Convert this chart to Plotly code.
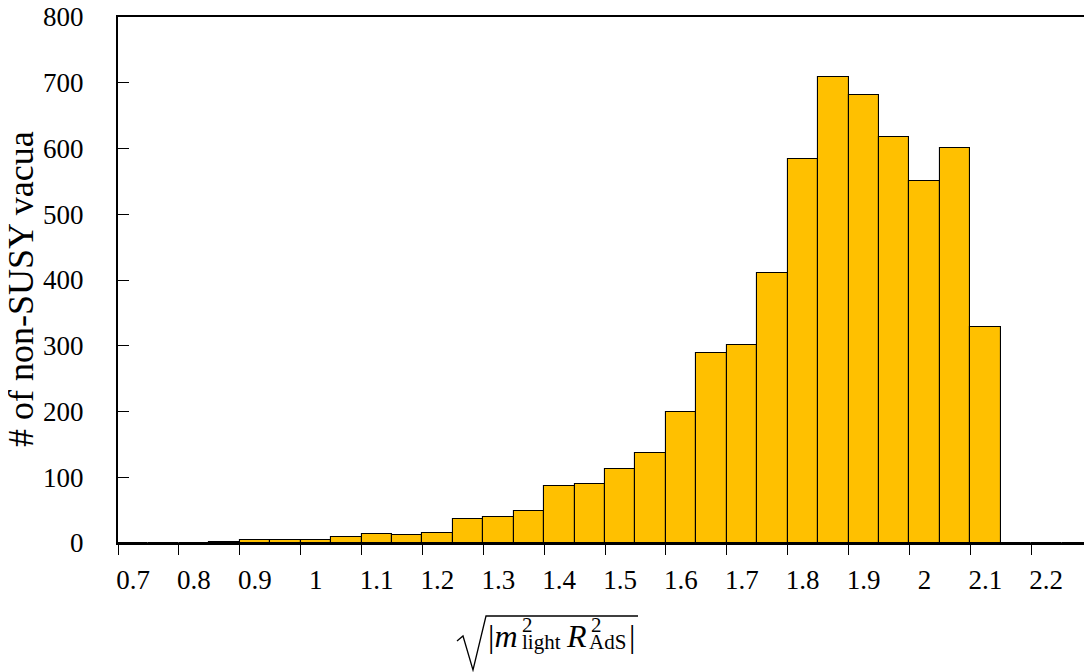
import plotly.graph_objects as go

# Histogram data: left bin edges and counts (bin width 0.05)
bin_width = 0.05
bin_left_edges = [0.70, 0.75, 0.80, 0.85, 0.90, 0.95, 1.00, 1.05, 1.10, 1.15,
                  1.20, 1.25, 1.30, 1.35, 1.40, 1.45, 1.50, 1.55, 1.60, 1.65,
                  1.70, 1.75, 1.80, 1.85, 1.90, 1.95, 2.00, 2.05, 2.10, 2.15,
                  2.20, 2.25]
counts = [0, 0, 0, 1, 4, 4, 4, 9, 14, 12,
          15, 36, 39, 48, 86, 90, 112, 137, 199, 289,
          301, 410, 584, 709, 681, 618, 550, 601, 329, 0,
          0, 0]

x_tick_vals = [0.7, 0.8, 0.9, 1.0, 1.1, 1.2, 1.3, 1.4, 1.5, 1.6, 1.7, 1.8, 1.9, 2.0, 2.1, 2.2]
x_tick_text = ["0.7", "0.8", "0.9", "1", "1.1", "1.2", "1.3", "1.4", "1.5", "1.6",
               "1.7", "1.8", "1.9", "2", "2.1", "2.2"]
y_tick_vals = [0, 100, 200, 300, 400, 500, 600, 700, 800]

centers = [e + bin_width / 2 for e in bin_left_edges]

FONT = "Liberation Serif"

fig = go.Figure()
fig.add_trace(go.Bar(
    x=centers, y=counts, width=bin_width,
    marker=dict(color="rgb(255,192,0)", line=dict(color="black", width=1.1)),
    showlegend=False,
))

# page has an 8px body margin; figure sized to fit the 1092x672 window
PAGE_OFF = 8
FIG_W, FIG_H = 1092 - PAGE_OFF, 672 - PAGE_OFF
# plot area in window pixels
L, R, T, B = 118, 1092, 17, 543
W_, H_ = R - L, B - T
def px(x):
    return (x - L) / W_
def py(y):
    return (B - y) / H_

annots = []
def add_text(text, x, ycenter, size):
    annots.append(dict(text=text, x=px(x), y=py(ycenter), xref="paper", yref="paper",
                       xanchor="left", yanchor="middle", showarrow=False,
                       font=dict(family=FONT, size=size, color="black")))

add_text("|<i>m</i>", 486, 636, 32)
add_text("2", 520, 625, 21)
add_text("light", 520, 642, 21)
add_text("<i>R</i>", 564, 636, 32)
add_text("2", 589, 625, 21)
add_text("AdS", 587, 642, 21)
add_text("|", 627, 636, 32)

# y-axis title as rotated annotation
annots.append(dict(text="# of non-SUSY vacua", x=px(21), y=py(289), xref="paper", yref="paper",
                   xanchor="center", yanchor="middle", textangle=-90, showarrow=False,
                   font=dict(family=FONT, size=36, color="black")))

radical = "M {},{} L {},{} L {},{} L {},{} L {},{}".format(
    px(457), py(641), px(463), py(636), px(473), py(670), px(486), py(616), px(638), py(616))

fig.update_layout(
    width=FIG_W, height=FIG_H,
    margin=dict(l=L - PAGE_OFF, r=FIG_W - (R - PAGE_OFF), t=T - PAGE_OFF, b=FIG_H - (B - PAGE_OFF)),
    paper_bgcolor="white", plot_bgcolor="white",
    bargap=0,
    font=dict(family=FONT, color="black"),
    annotations=annots,
    shapes=[dict(type="path", path=radical, xref="paper", yref="paper",
                 line=dict(color="black", width=1.3))],
    xaxis=dict(
        range=[0.7, 2.3], tickvals=x_tick_vals, ticktext=x_tick_text,
        ticks="outside", ticklen=10, tickwidth=1.3, tickcolor="black",
        showline=True, linecolor="black", linewidth=2, mirror=True,
        showgrid=False, zeroline=False, automargin=False,
        tickfont=dict(family=FONT, size=27, color="black"),
        ticklabelshift=15, ticklabelstandoff=2, ticklabeloverflow="allow",
    ),
    yaxis=dict(
        range=[0, 800], tickvals=y_tick_vals,
        ticks="inside", ticklen=11, tickwidth=1.3, tickcolor="black",
        showline=True, linecolor="black", linewidth=2, mirror=True,
        showgrid=False, zeroline=False, automargin=False,
        tickfont=dict(family=FONT, size=27, color="black"),
        ticklabelstandoff=27, ticklabeloverflow="allow",
    ),
)

fig.write_html("out.html")
